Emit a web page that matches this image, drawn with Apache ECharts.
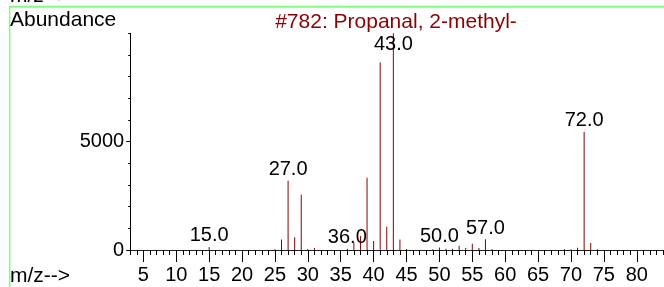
<!DOCTYPE html>
<html>
<head>
<meta charset="utf-8">
<script src="https://cdn.jsdelivr.net/npm/echarts@6/dist/echarts.min.js"></script>
<style>
  html, body { margin: 0; padding: 0; background: #fff; }
  #main { width: 664px; height: 287px; }
</style>
</head>
<body>
<div id="main"></div>
<script>
// mass spectrum
const mz = [15, 25, 26, 27, 28, 29, 30, 31, 36, 37, 38, 39, 40, 41, 42, 43, 44, 45,
  49, 50, 51, 52, 53, 54, 55, 56, 57, 58, 69, 70, 71, 72, 73, 74]
const abundance = [140, 40, 490, 3190, 590, 2550, 50, 90, 60, 340, 650, 3330, 420, 8650, 1070, 10000, 480, 50,
  40, 120, 60, 60, 200, 90, 290, 90, 495, 40, 40, 40, 100, 5450, 320, 30]
const labelledPeaks = [15, 27, 36, 43, 50, 57, 72]
const xTickValues = [5, 10, 15, 20, 25, 30, 35, 40, 45, 50, 55, 60, 65, 70, 75, 80]
const yTickValues = [0, 5000]
const title = '#782: Propanal, 2-methyl-'

const FONT = 'Liberation Sans, Arial, sans-serif'
const RED = '#8b0000'

const myChart = echarts.init(document.getElementById('main'))

const barData = mz.map((m, i) => {
  const item = { value: [m, abundance[i]] }
  if (labelledPeaks.includes(m)) {
    item.label = { show: true }
    // base peak label sits inside the frame
    if (m === 43) item.label.position = 'insideTop'
  }
  return item
})

const option = {
  animation: false,
  grid: { left: 130.2, right: 0, top: 33.3, bottom: 37 },
  xAxis: [
    {
      type: 'value', min: 3, max: 84.14, interval: 1,
      axisLine: { show: true, lineStyle: { color: '#222', width: 1 } },
      axisTick: { show: true, length: 5, lineStyle: { color: '#000' } },
      axisLabel: { show: false },
      splitLine: { show: false }
    },
    {
      type: 'value', min: 3, max: 84.14, position: 'bottom',
      axisLine: { show: false },
      axisTick: { show: true, length: 12, customValues: xTickValues, lineStyle: { color: '#000' } },
      axisLabel: { show: true, customValues: xTickValues, margin: 15, fontSize: 20, fontFamily: FONT, color: '#000' },
      splitLine: { show: false }
    }
  ],
  yAxis: [
    {
      type: 'value', min: 0, max: 10000, interval: 1000,
      axisLine: { show: true, lineStyle: { color: '#000' } },
      axisTick: { show: true, length: 2, lineStyle: { color: '#000' } },
      axisLabel: { show: false },
      splitLine: { show: false }
    },
    {
      type: 'value', min: 0, max: 10000, position: 'left',
      axisLine: { show: false },
      axisTick: { show: true, length: 4, customValues: yTickValues, lineStyle: { color: '#000' } },
      axisLabel: {
        show: true, customValues: yTickValues, margin: 6, fontSize: 20, fontFamily: FONT, color: '#000',
        formatter: v => String(v)
      },
      splitLine: { show: false }
    }
  ],
  series: [
    {
      type: 'bar',
      barWidth: 1,
      itemStyle: { color: RED },
      label: {
        show: false, position: 'top', distance: 1,
        fontSize: 20, fontFamily: FONT, color: '#000',
        formatter: p => p.value[0].toFixed(1)
      },
      data: barData
    }
  ],
  graphic: [
    // green frame
    { type: 'line', shape: { x1: 9, y1: 6.8, x2: 664, y2: 6.8 }, style: { stroke: '#80ff80', lineWidth: 2 } },
    { type: 'line', shape: { x1: 9.7, y1: 6, x2: 9.7, y2: 287 }, style: { stroke: '#80ff80', lineWidth: 1.5 } },
    { type: 'text', style: { text: 'm/z-->', x: 10, y: -3.5, font: '21px ' + FONT, fill: '#000', textVerticalAlign: 'middle' } },
    { type: 'text', style: { text: 'Abundance', x: 10, y: 20.5, font: '21px ' + FONT, fill: '#000', textVerticalAlign: 'middle' } },
    { type: 'text', style: { text: title, x: 396, y: 22, font: '21px ' + FONT, fill: RED, textAlign: 'center', textVerticalAlign: 'middle' } },
    { type: 'text', style: { text: 'm/z-->', x: 10, y: 276.5, font: '21px ' + FONT, fill: '#000', textVerticalAlign: 'middle' } }
  ]
}

myChart.setOption(option)
</script>
</body>
</html>
